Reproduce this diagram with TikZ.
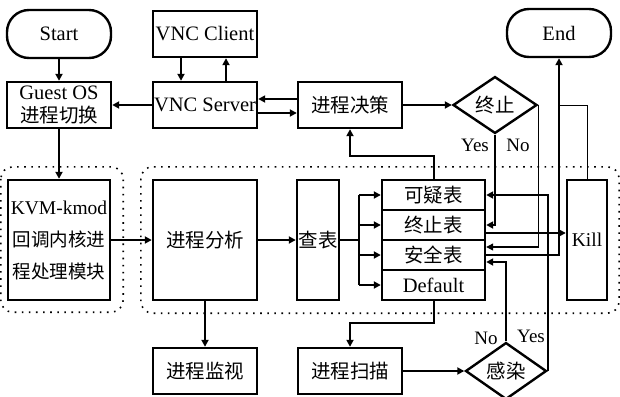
\documentclass[tikz,border=0pt]{standalone}
\usepackage{fontspec}
\setmainfont{Liberation Serif}
\newfontfamily\cjk[Scale=0.95]{Noto Sans CJK SC}
\usepackage{tikz}
\usetikzlibrary{positioning, arrows.meta, shapes.geometric, calc}
\tikzset{
  box/.style={draw, line width=2.4pt, minimum width=104pt, minimum height=46pt, inner sep=0pt, align=center, font=\fontsize{20.5}{23}\selectfont},
  tall/.style={box, minimum height=120pt},
  cell/.style={box, minimum width=103pt, minimum height=30pt},
  term/.style={box, rounded corners=22pt, minimum height=48pt},
  choice/.style={draw, diamond, line width=2.4pt, inner sep=0pt, font=\fontsize{20.5}{23}\selectfont\cjk},
  arrow/.style={-{Triangle[length=7pt, width=7pt]}, line width=2pt},
  wire/.style={line width=2pt},
  thinwire/.style={line width=1pt},
  dotframe/.style={dash pattern=on 1.6pt off 5.5pt, line width=1.6pt, rounded corners=12pt},
  tag/.style={font=\fontsize{19}{21}\selectfont, inner sep=0pt},
}
\begin{document}
\begin{tikzpicture}[x=1pt, y=-1pt]
  \useasboundingbox (0,0) rectangle (620,396);
  % top row
  \node[term] (start) at (59,34) {Start};
  \node[box] (client) at (205,34) {VNC Client};
  \node[term] (end) at (559,33) {End};
  % second row
  \node[box] (guest) at (59,105) {Guest OS\\{\cjk 进程切换}};
  \node[box] (server) at (205,105) {VNC Server};
  \node[box] (decide) at (350,105) {\cjk 进程决策};
  \node[choice, minimum width=84pt, minimum height=46pt] (stop) at (495,105) {终止};
  % middle row, the two dotted groups
  \node[tall, minimum width=102pt, font=\fontsize{19.5}{32}\selectfont] (kvm) at (59,240) {KVM-kmod\\{\cjk 回调内核进}\\{\cjk 程处理模块}};
  \node[tall] (analyse) at (205,240) {\cjk 进程分析};
  \node[tall, minimum width=42pt] (lookup) at (318,240) {\cjk 查表};
  \node[cell] (suspect) at (433.5,195) {\cjk 可疑表};
  \node[cell] (stoplist) at (433.5,225) {\cjk 终止表};
  \node[cell] (safelist) at (433.5,255) {\cjk 安全表};
  \node[cell] (default) at (433.5,285) {Default};
  \node[tall, minimum width=40pt, font=\fontsize{19.5}{23}\selectfont] (kill) at (587,240) {Kill};
  \draw[dotframe] ($(kvm.north west)+(-6,-12)$) rectangle ($(kvm.south east)+(12,11)$);
  \draw[dotframe] ($(analyse.north west)+(-11,-12)$) rectangle ($(kill.south east)+(11,12)$);
  % bottom row
  \node[box] (monitor) at (205,371) {\cjk 进程监视};
  \node[box] (scan) at (350,371) {\cjk 进程扫描};
  \node[choice, minimum width=81pt, minimum height=44pt] (infect) at (506,371) {感染};
  % connectors
  \draw[arrow] (start) -- (guest);
  \draw[arrow] ([xshift=-24pt]client.south) -- ([xshift=-24pt]server.north);
  \draw[arrow] ([xshift=21pt]server.north) -- ([xshift=21pt]client.south);
  \draw[arrow] (server) -- (guest);
  \draw[arrow] ([yshift=6pt]decide.west) -- ([yshift=6pt]server.east);
  \draw[arrow] ([yshift=-8pt]server.east) -- ([yshift=-8pt]decide.west);
  \draw[arrow] (decide) -- (stop);
  \draw[arrow] (stop.south) |- (stoplist.east);
  \draw[arrow, line width=1.2pt] (stop.east) |- ([yshift=8pt]safelist.east);
  \draw[arrow] ([yshift=-8pt]stoplist.east) -- ([yshift=-8pt]stoplist.east -| kill.west);
  \draw[arrow] (safelist.east) -| (end.south);
  \draw[thinwire] (kill.north) |- (end.south |- stop.east);
  \draw[arrow] (suspect.north) -- ++(0,-23) -| (decide.south);
  \draw[arrow] (guest) -- (kvm);
  \draw[arrow] (kvm) -- (analyse);
  \draw[arrow] (analyse) -- (lookup);
  \draw[wire] (lookup.east) -- ++(19,0) coordinate (fork);
  \draw[wire] (fork |- suspect.west) -- (fork |- default.west);
  \foreach \row in {suspect, stoplist, safelist, default}
    \draw[arrow] (fork |- \row.west) -- (\row.west);
  \draw[arrow] (analyse) -- (monitor);
  \draw[arrow] (default.south) -- ++(0,22) -| (scan.north);
  \draw[arrow] (scan) -- (infect);
  \draw[arrow] (infect.north) |- ([yshift=-7pt]safelist.east);
  \draw[arrow] (infect.east) |- (suspect.east);
  % branch labels
  \node[tag] (stopyes) at (475,145) {Yes};
  \node[tag] (stopno) at (518,145) {No};
  \node[tag] (infectno) at (486,338) {No};
  \node[tag] (infectyes) at (531,336) {Yes};
\end{tikzpicture}
\end{document}
